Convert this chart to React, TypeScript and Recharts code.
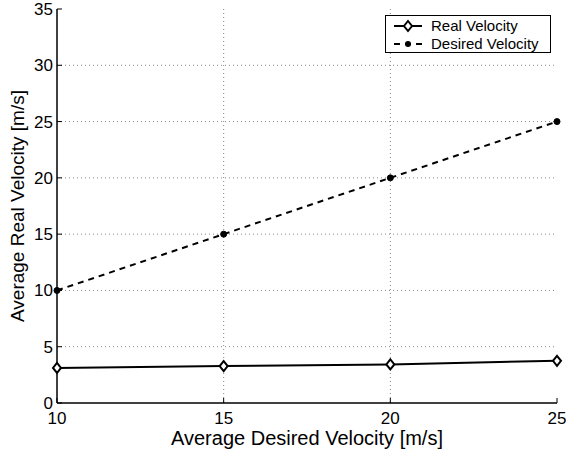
import React from "react";
import { LineChart, Line, XAxis, YAxis, CartesianGrid } from "recharts";

const desiredVelocity = [10, 15, 20, 25];
const realVelocity = [3.12, 3.28, 3.43, 3.75];
const desiredSeries = [10, 15, 20, 25];
const xTicks = [10, 15, 20, 25];
const yTicks = [0, 5, 10, 15, 20, 25, 30, 35];

const data = desiredVelocity.map((x, i) => ({
  x,
  real: realVelocity[i],
  desired: desiredSeries[i],
}));

const FONT = "'Liberation Sans', Arial, Helvetica, sans-serif";
const TICK = 5;

const XTickBottom = (props: any) => {
  const { x, y, payload } = props;
  return (
    <g>
      <line x1={x} y1={y} x2={x} y2={y - TICK} stroke="#000" strokeWidth={1} />
      <text x={x} y={y + 21} textAnchor="middle" fontFamily={FONT} fontSize={17} fill="#000">
        {payload.value}
      </text>
    </g>
  );
};

const XTickTop = (props: any) => {
  const { x, y } = props;
  return <line x1={x} y1={y} x2={x} y2={y + TICK} stroke="#000" strokeWidth={1} />;
};

const YTickLeft = (props: any) => {
  const { x, y, payload } = props;
  return (
    <g>
      <line x1={x} y1={y} x2={x + TICK} y2={y} stroke="#000" strokeWidth={1} />
      <text x={x - 4} y={y + 6} textAnchor="end" fontFamily={FONT} fontSize={17} fill="#000">
        {payload.value}
      </text>
    </g>
  );
};

const YTickRight = (props: any) => {
  const { x, y } = props;
  return <line x1={x} y1={y} x2={x - TICK} y2={y} stroke="#000" strokeWidth={1} />;
};

const YTitle = (props: any) => {
  const vb = props.viewBox || {};
  const cy = (vb.y ?? 0) + (vb.height ?? 0) / 2;
  const cx = 17;
  return (
    <text
      x={cx}
      y={cy}
      transform={`rotate(-90, ${cx}, ${cy})`}
      textAnchor="middle"
      dominantBaseline="central"
      fontFamily={FONT}
      fontSize={19}
      fill="#000"
    >
      Average Real Velocity [m/s]
    </text>
  );
};

const Diamond = (props: any) => {
  const { cx, cy } = props;
  if (cx == null || cy == null) return null;
  return (
    <path
      d={`M${cx},${cy - 5} L${cx + 4},${cy} L${cx},${cy + 5} L${cx - 4},${cy} Z`}
      fill="#fff"
      stroke="#000"
      strokeWidth={2}
    />
  );
};

const Dot = (props: any) => {
  const { cx, cy } = props;
  if (cx == null || cy == null) return null;
  return <circle cx={cx} cy={cy} r={3} fill="#000" stroke="#000" />;
};

export default function App() {
  return (
    <div style={{ position: "absolute", left: 0, top: 0, width: 566, height: 453, background: "#fff" }}>
      <LineChart
        width={566}
        height={453}
        data={data}
        margin={{ top: 9, right: 9, bottom: 0, left: 0 }}
      >
        <CartesianGrid
          stroke="#888"
          strokeDasharray="1 3"
          horizontalValues={[5, 10, 15, 20, 25, 30]}
          verticalValues={[15, 20]}
        />
        <XAxis
          dataKey="x"
          type="number"
          domain={[10, 25]}
          ticks={xTicks}
          tickSize={0}
          tickMargin={0}
          tickLine={false}
          tick={<XTickBottom />}
          axisLine={{ stroke: "#000", strokeWidth: 1.5 }}
          height={50}
          interval={0}
          label={{
            value: "Average Desired Velocity [m/s]",
            position: "insideBottom",
            offset: 8,
            style: { fontFamily: FONT, fontSize: 20, fill: "#000" },
          }}
        />
        <XAxis
          xAxisId="top"
          orientation="top"
          dataKey="x"
          type="number"
          domain={[10, 25]}
          ticks={xTicks}
          tickSize={0}
          tickMargin={0}
          tickLine={false}
          tick={<XTickTop />}
          axisLine={{ stroke: "#000", strokeWidth: 1.5 }}
          height={0}
          interval={0}
        />
        <YAxis
          type="number"
          domain={[0, 35]}
          ticks={yTicks}
          tickSize={0}
          tickMargin={0}
          tickLine={false}
          tick={<YTickLeft />}
          axisLine={{ stroke: "#000", strokeWidth: 1.5 }}
          width={57}
          interval={0}
          label={<YTitle />}
        />
        <YAxis
          yAxisId="right"
          orientation="right"
          type="number"
          domain={[0, 35]}
          ticks={yTicks}
          tickSize={0}
          tickMargin={0}
          tickLine={false}
          tick={<YTickRight />}
          axisLine={{ stroke: "#000", strokeWidth: 1.5 }}
          width={0}
          interval={0}
        />
        <Line
          dataKey="desired"
          stroke="#000"
          strokeWidth={2}
          strokeDasharray="6 5"
          dot={<Dot />}
          isAnimationActive={false}
        />
        <Line
          dataKey="real"
          stroke="#000"
          strokeWidth={2}
          dot={<Diamond />}
          isAnimationActive={false}
        />
      </LineChart>
      <div
        style={{
          position: "absolute",
          left: 385,
          top: 15,
          width: 164,
          height: 36,
          border: "1px solid #000",
          background: "#fff",
        }}
      >
        <svg width={164} height={36} style={{ display: "block" }}>
          <line x1={8} y1={10} x2={36} y2={10} stroke="#000" strokeWidth={2} />
          <path d="M22,5 L26,10 L22,15 L18,10 Z" fill="#fff" stroke="#000" strokeWidth={2} />
          <text x={45} y={15} fontFamily={FONT} fontSize={15} fill="#000">
            Real Velocity
          </text>
          <line x1={8} y1={28} x2={36} y2={28} stroke="#000" strokeWidth={2} strokeDasharray="6 5" />
          <circle cx={22} cy={28} r={3} fill="#000" />
          <text x={45} y={33} fontFamily={FONT} fontSize={15} fill="#000">
            Desired Velocity
          </text>
        </svg>
      </div>
    </div>
  );
}
